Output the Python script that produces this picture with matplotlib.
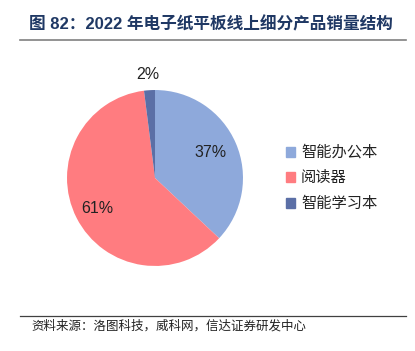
import matplotlib.pyplot as plt
from matplotlib.lines import Line2D

plt.rcParams['font.family'] = ['Noto Sans CJK SC', 'DejaVu Sans']

labels = ['智能办公本', '阅读器', '智能学习本']
shares = [37, 61, 2]
colors = ['#8EA9DB', '#FF7C80', '#5B6FA6']

fig = plt.figure(figsize=(4.15, 3.51), dpi=100)

# title and rules
fig.text(0.070, 0.930, '图 82：2022 年电子纸平板线上细分产品销量结构', fontsize=12,
         fontweight='bold', color='#1F3864', va='center',
         family=['Liberation Sans', 'Noto Sans CJK SC'])
fig.add_artist(Line2D([0.048, 0.978], [0.887, 0.887], color='#808080', lw=1.2))
fig.add_artist(Line2D([0.048, 0.978], [0.100, 0.100], color='#404040', lw=0.9))
fig.text(0.075, 0.072, '资料来源：洛图科技，威科网，信达证券研发中心', fontsize=9,
         style='italic', color='#222222', va='center')

# pie
ax = fig.add_axes([0.3735 - 0.212, 0.4929 - 0.2507, 0.424, 0.5014])
wedges, texts = ax.pie(shares, colors=colors, startangle=90, counterclock=False,
                       wedgeprops=dict(linewidth=0))
ax.set_xlim(-1, 1)
ax.set_ylim(-1, 1)
ax.set_aspect('equal')

pos = [(0.63, 0.29), (-0.66, -0.35), (-0.08, 1.18)]
for (x, y), s in zip(pos, shares):
    ax.text(x, y, f'{s}%', ha='center', va='center', fontsize=11.5, color='#222222',
            family=['Liberation Sans'])

# legend
for i, (lab, c) in enumerate(zip(labels, colors)):
    y = 1 - (152 + i * 25.5) / 351
    fig.patches.append(plt.Rectangle((286 / 415, y - 0.014), 9 / 415, 10 / 351,
                                     transform=fig.transFigure, color=c))
    fig.text(301 / 415, y, lab, fontsize=11, va='center', color='#222222')

fig.savefig('out.png', dpi=100)
